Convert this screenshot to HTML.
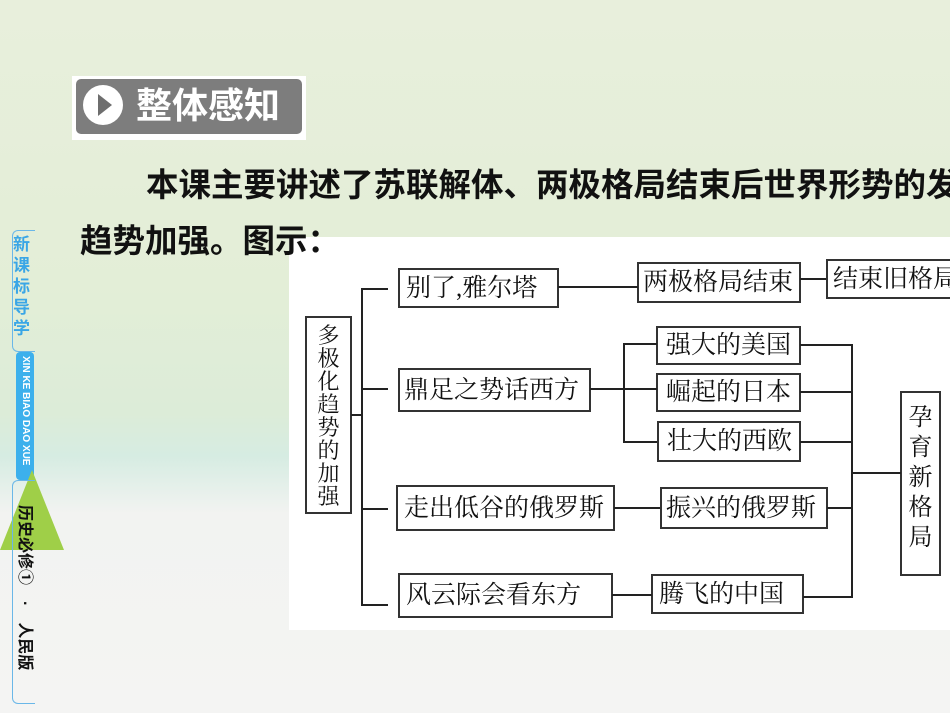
<!DOCTYPE html>
<html><head><meta charset="utf-8"><style>
body{margin:0;width:950px;height:713px;overflow:hidden;position:relative;font-family:"Liberation Serif","Noto Serif CJK SC","Noto Serif CJK JP",serif;
background:linear-gradient(180deg,#e8efdc 0%,#e3eed7 40%,#dcecd8 58%,#d6ece2 64%,#f2f3f1 72%,#f4f4f3 100%);}
.a{position:absolute}
.b{position:absolute;border:2px solid #333;background:#fff;box-sizing:border-box;font-size:25px;line-height:1;display:flex;align-items:center;padding-left:6px;color:#111;white-space:nowrap;overflow:hidden}
.h{position:absolute;height:2px;background:#222}
.v{position:absolute;width:2px;background:#222}
.s{font-family:"Liberation Sans","Noto Sans CJK SC",sans-serif;font-weight:bold}
</style></head><body>
<div class="a" style="left:72px;top:76px;width:234px;height:64px;background:#fff"></div>
<div class="a" style="left:76px;top:79px;width:226px;height:55px;background:#7d7d7d;border-radius:5px"></div>
<div class="a" style="left:83px;top:85px;width:40px;height:40px;border-radius:50%;background:#fff"></div>
<div class="a" style="left:98px;top:94px;width:0;height:0;border-left:14px solid #6e6e6e;border-top:11px solid transparent;border-bottom:11px solid transparent"></div>
<div class="a s" style="left:136px;top:84px;font-size:36px;color:#fff;line-height:44px">整体感知</div>
<div class="a s" style="left:146px;top:165px;font-size:32.5px;color:#111;white-space:nowrap;line-height:40px">本课主要讲述了苏联解体、两极格局结束后世界形势的发</div>
<!-- sidebar -->
<div class="a" style="left:12px;top:230px;width:22px;height:120px;border:1px solid #6ab7e8;border-right:none;border-radius:6px 0 0 6px"></div>
<div class="a s" style="left:13px;top:234px;width:20px;font-size:17px;line-height:21px;color:#3aa6e6">新课标导学</div>
<div class="a" style="left:16px;top:352px;width:18px;height:128px;background:#3cb0ec;border-radius:4px"></div>
<div class="a s" style="left:17px;top:356px;width:16px;font-size:10px;color:#fff;writing-mode:vertical-rl;line-height:16px">XIN KE BIAO DAO XUE</div>
<div class="a" style="left:0;top:470px;width:0;height:0;border-bottom:80px solid #9fcf48;border-left:32px solid transparent;border-right:32px solid transparent"></div>
<div class="a" style="left:12px;top:480px;width:22px;height:222px;border:1px solid #6ab7e8;border-right:none;border-radius:6px 0 0 6px"></div>
<div class="a s" style="left:13px;top:505px;width:22px;font-size:16px;color:#111;writing-mode:vertical-rl;text-orientation:sideways;line-height:22px">历史必修①　·　人民版</div>
<!-- panel -->
<div class="a" style="left:289px;top:237px;width:661px;height:393px;background:#fff"></div>
<div class="a s" style="left:80px;top:221px;font-size:32.5px;color:#111;line-height:40px">趋势加强。图示：</div>
<div class="b" style="left:305px;top:316px;width:47px;height:198px;padding:6px 0 0;align-items:flex-start;justify-content:center;font-size:22px;line-height:23px;white-space:normal;text-align:center">多极化趋势的加强</div>
<div class="b" style="left:398px;top:268px;width:161px;height:40px">别了,雅尔塔</div>
<div class="b" style="left:637px;top:262px;width:164px;height:41px;padding-left:4px">两极格局结束</div>
<div class="b" style="left:826px;top:259px;width:130px;height:40px;padding-left:5px">结束旧格局</div>
<div class="b" style="left:398px;top:368px;width:193px;height:44px;padding-left:4px">鼎足之势话西方</div>
<div class="b" style="left:656px;top:326px;width:145px;height:39px;padding-left:8px">强大的美国</div>
<div class="b" style="left:656px;top:373px;width:145px;height:39px;padding-left:8px">崛起的日本</div>
<div class="b" style="left:657px;top:421px;width:144px;height:41px;padding-left:8px">壮大的西欧</div>
<div class="b" style="left:900px;top:391px;width:41px;height:185px;padding:10px 0 0;align-items:flex-start;justify-content:center;white-space:normal;font-size:24px;line-height:30px;text-align:center">孕育新格局</div>
<div class="b" style="left:396px;top:485px;width:219px;height:46px">走出低谷的俄罗斯</div>
<div class="b" style="left:660px;top:487px;width:168px;height:42px;padding-left:4px">振兴的俄罗斯</div>
<div class="b" style="left:398px;top:573px;width:215px;height:45px">风云际会看东方</div>
<div class="b" style="left:651px;top:574px;width:153px;height:40px;padding-left:6px">腾飞的中国</div>
<!-- connectors -->
<div class="h" style="left:351px;top:414px;width:12px"></div>
<div class="v" style="left:361px;top:288px;height:318px"></div>
<div class="h" style="left:361px;top:288px;width:27px"></div>
<div class="h" style="left:361px;top:388px;width:27px"></div>
<div class="h" style="left:361px;top:508px;width:27px"></div>
<div class="h" style="left:361px;top:604px;width:27px"></div>
<div class="h" style="left:558px;top:286px;width:80px"></div>
<div class="h" style="left:800px;top:278px;width:26px"></div>
<div class="h" style="left:590px;top:388px;width:67px"></div>
<div class="v" style="left:623px;top:343px;height:100px"></div>
<div class="h" style="left:623px;top:343px;width:34px"></div>
<div class="h" style="left:623px;top:441px;width:34px"></div>
<div class="h" style="left:614px;top:507px;width:46px"></div>
<div class="h" style="left:612px;top:594px;width:40px"></div>
<div class="v" style="left:851px;top:344px;height:254px"></div>
<div class="h" style="left:800px;top:344px;width:52px"></div>
<div class="h" style="left:800px;top:391px;width:52px"></div>
<div class="h" style="left:800px;top:441px;width:52px"></div>
<div class="h" style="left:827px;top:507px;width:25px"></div>
<div class="h" style="left:803px;top:596px;width:49px"></div>
<div class="h" style="left:851px;top:472px;width:50px"></div>
</body></html>
